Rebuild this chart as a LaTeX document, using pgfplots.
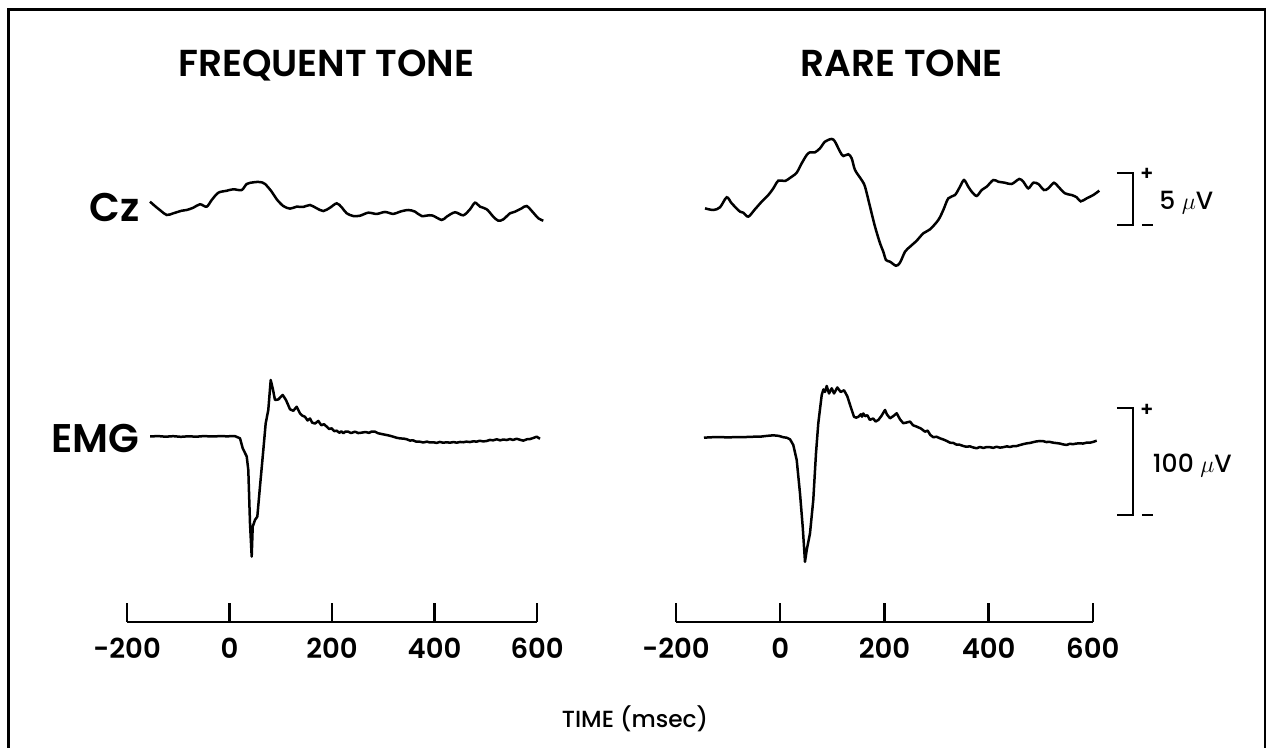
\documentclass[border=0pt]{standalone}
\usepackage{fontspec}
\setmainfont{Poppins}[BoldFont={Poppins SemiBold}]
\newfontfamily\medfont{Poppins Medium}
\usepackage{pgfplots}
\pgfplotsset{compat=1.18}
\pgfplotsset{
  trace/.style={scale only axis, hide axis, clip=false, xmin=-200, xmax=620},
  timeax/.style={scale only axis, clip=false, xmin=-200, xmax=600, ymin=0, ymax=1, height=20pt,
    axis x line=bottom, axis y line=none, xtick={-200,0,200,400,600},
    x axis line style={-, line width=1.5pt}, major tick length=11.2pt,
    tick style={line width=1.5pt, black}, xtick align=inside,
    /pgf/number format/assume math mode=true,
    xticklabel style={inner sep=0pt, yshift=-9.6pt, font=\fontsize{16.5}{18}\selectfont\bfseries}},
}
\begin{document}
\begin{tikzpicture}
\useasboundingbox (0,0) rectangle (759.6pt,448.8pt);
\draw[line width=1.8pt] (4.8pt,-2pt) -- (4.8pt,442.8pt) -- (759pt,442.8pt) -- (759pt,-2pt);
\node[anchor=base west, inner sep=0pt, font=\fontsize{22.5}{26}\selectfont\bfseries] at (106.8pt,402.6pt) {FREQUENT TONE};
\node[anchor=base west, inner sep=0pt, font=\fontsize{22.5}{26}\selectfont\bfseries] at (480pt,402.6pt) {RARE TONE};
\node[anchor=base east, inner sep=0pt, font=\fontsize{24}{27}\selectfont\bfseries] at (84pt,315.6pt) {Cz};
\node[anchor=base east, inner sep=0pt, font=\fontsize{24}{27}\selectfont\bfseries] at (84pt,177pt) {EMG};
\node[anchor=base, inner sep=0pt, font=\fontsize{14}{16}\selectfont\medfont] at (381pt,12pt) {TIME (msec)};

% Cz left
\begin{axis}[trace, at={(76.26pt,285.36pt)}, anchor=south west, width=252.15pt, height=87.36pt, ymin=-6, ymax=8]
\addplot[black, line width=1.5pt, smooth, tension=0.5] coordinates {
(-155.3,0.80)(-145.6,0.38)(-134.4,-0.07)(-122.7,-0.48)(-109.9,-0.32)(-93.5,-0.07)(-83.7,0.0)(-70.8,0.22)(-57.8,0.55)(-44.7,0.32)(-34.9,0.96)(-22.0,1.66)(-5.7,1.85)(7.2,1.99)(23.6,1.92)(33.4,2.50)(46.2,2.66)(59.3,2.69)(69.1,2.50)(82.1,1.76)(91.9,1.03)(104.8,0.38)(117.9,0.13)(130.9,0.32)(143.8,0.29)(156.9,0.48)(170.0,0.16)(182.9,-0.10)(195.9,0.22)(209.0,0.64)(218.7,0.26)(228.5,-0.32)(241.4,-0.58)(254.4,-0.55)(270.6,-0.26)(287.0,-0.38)(303.2,-0.19)(319.4,-0.38)(332.5,-0.16)(348.7,0.0)(361.8,-0.16)(374.9,-0.58)(394.3,-0.51)(413.9,-0.96)(423.6,-0.64)(439.8,-0.22)(456.0,-0.51)(469.1,0.07)(478.8,0.70)(488.6,0.32)(501.7,0.07)(514.5,-0.64)(524.3,-1.03)(534.1,-0.90)(547.1,-0.32)(556.9,-0.16)(570.0,0.16)(579.7,0.38)(592.6,-0.26)(602.4,-0.80)(612.1,-1.03)
};
\end{axis}

% Cz right
\begin{axis}[trace, at={(405.6pt,285.36pt)}, anchor=south west, width=256.32pt, height=87.36pt, ymin=-6, ymax=8]
\addplot[black, line width=1.5pt, smooth, tension=0.5] coordinates {
(-144.3,0.16)(-128.4,0.0)(-115.5,0.26)(-102.7,1.22)(-93.1,0.64)(-77.2,-0.16)(-70.8,-0.26)(-61.2,-0.64)(-48.4,0.07)(-35.5,0.80)(-22.8,1.44)(-13.2,2.08)(-3.6,2.82)(9.2,2.79)(22.1,3.20)(31.7,3.59)(41.3,4.49)(50.9,5.29)(57.2,5.55)(66.8,5.55)(76.4,5.93)(86.0,6.57)(98.9,6.83)(105.2,6.57)(114.8,5.61)(121.1,5.19)(130.7,5.36)(137.2,4.97)(143.6,3.85)(156.4,2.88)(162.8,2.24)(172.4,0.32)(182.0,-1.60)(191.6,-3.20)(197.9,-4.01)(203.1,-4.81)(210.8,-4.97)(222.3,-5.36)(229.9,-5.07)(239.6,-4.01)(249.2,-3.53)(262.0,-2.95)(274.7,-2.24)(287.6,-1.86)(303.5,-0.96)(313.1,0.0)(322.7,1.12)(335.5,1.44)(345.1,2.24)(352.8,2.88)(361.0,2.24)(367.6,1.76)(377.2,1.35)(386.8,1.92)(396.4,2.24)(409.0,2.88)(418.6,2.72)(431.5,2.62)(444.3,2.50)(458.9,2.98)(466.6,2.72)(476.2,2.08)(485.8,2.62)(495.4,2.50)(506.3,1.92)(514.6,2.08)(525.5,2.62)(533.8,2.24)(546.7,1.60)(559.5,1.44)(569.1,1.22)(576.8,0.83)(588.3,1.12)(601.0,1.44)(612.5,1.86)
};
\draw[line width=1.5pt] (646.4,3.56) -- (677.2,3.56) -- (677.2,-1.44) -- (646.4,-1.44);
\draw[line width=1.5pt] (694.4,-1.44) -- (715.5,-1.44);
\node[font=\fontsize{12}{14}\selectfont\bfseries, inner sep=0pt] at (704,3.46) {+};
\node[anchor=base west, inner sep=0pt, font=\fontsize{15}{17}\selectfont\medfont] at (727.1,0) {5 $\mu$V};
\end{axis}

% EMG left
\begin{axis}[trace, at={(76.26pt,109.86pt)}, anchor=south west, width=252.15pt, height=115.56pt, ymin=-120, ymax=60]
\addplot[black, line width=1.5pt, line join=round] coordinates {
(-155,0)(-140,0.4)(-125,-0.2)(-110,0.3)(-95,-0.3)(-80,0.2)(-65,-0.2)(-50,0.4)(-35,0)(-20,0.3)(-5,0.2)(10.5,0.3)(20.3,-1.7)(25.6,-11.0)(33.4,-18.7)(36.5,-31.3)(39.8,-81.1)(43.1,-112.2)(45.1,-84.2)(49.6,-78.0)(54.1,-74.8)(59.3,-46.7)(65.8,-12.6)(70.4,12.3)(75.5,24.8)(80.2,52.8)(84.1,45.0)(88.6,34.1)(95.0,34.6)(103.6,38.8)(110.0,34.1)(117.9,25.4)(124.3,24.0)(130.9,27.8)(137.4,21.5)(142,19.5)(147.1,18.4)(152,15)(156.9,16.8)(161,13)(166.6,12.1)(173.1,14.5)(179,10.5)(184,11.5)(189.5,9.2)(194,7)(199.2,7.6)(204,5.0)(209.0,5.4)(214,3.5)(218,4.8)(221.9,3.0)(226,4.6)(231.6,4.5)(237,3.2)(244.7,4.5)(251,3.2)(257.8,3.6)(265,4.2)(272,3.4)(277,4.6)(283.7,4.5)(290,3.0)(296.8,2.3)(305,1.5)(312,0.8)(319.4,-0.2)(326,-1.2)(333,-1.8)(340,-2.0)(345.6,-2.6)(352,-3.8)(358,-3.6)(364,-4.8)(371.5,-4.9)(378,-5.6)(385,-4.8)(391,-5.6)(397.5,-5.4)(404,-6.0)(410,-5.1)(417,-5.8)(423.6,-5.4)(430,-5.8)(437,-5.2)(443,-5.8)(449.6,-5.1)(456,-5.4)(462,-4.8)(469,-5.2)(475.5,-4.5)(482,-4.8)(488,-4.0)(495,-4.6)(501.7,-4.2)(508,-3.2)(514,-3.6)(521.2,-2.6)(528,-3.6)(534,-2.8)(540.7,-3.3)(547,-2.4)(553,-3.2)(560.2,-2.1)(566,-3.0)(573.1,-3.9)(580,-2.6)(586,-2.4)(592.6,-1.4)(599.2,-0.2)(605.6,-2.1)
};
\end{axis}

% EMG right
\begin{axis}[trace, at={(405.6pt,109.86pt)}, anchor=south west, width=256.32pt, height=115.56pt, ymin=-120, ymax=60]
\addplot[black, line width=1.5pt, line join=round] coordinates {
(-146.3,-1.1)(-131,-0.7)(-115.5,-0.5)(-100,-0.9)(-85,-0.5)(-77.2,-0.7)(-60,-0.4)(-50,-0.2)(-38.8,-0.2)(-25,0.6)(-13.2,1.1)(-3,0.6)(6.0,-0.7)(13,-1.2)(18.8,-2.6)(25.1,-7.9)(31.7,-22.0)(38.0,-53.2)(43.2,-84.4)(47.6,-117.1)(50.9,-106.1)(57.2,-90.5)(63.5,-59.3)(68.7,-15.7)(73.1,12.3)(79.7,38.8)(83,44)(86.0,41.6)(89.3,47.2)(93.7,40.2)(98.9,45.0)(103.3,40.2)(109.6,45.8)(116.1,41.6)(122.5,43.2)(128.8,37.6)(135.3,27.7)(141.7,18.4)(146,17.6)(149.9,18.4)(155,20.8)(157,18.5)(159.5,21.5)(163,19)(167.2,19.9)(172,15.6)(178.7,16.8)(183,14.0)(188.3,15.4)(194,19)(201.2,24.8)(205,20.5)(210.8,17.0)(217,19)(223.6,21.7)(230,16)(236.3,12.4)(242,13)(249.2,13.9)(255,10.5)(262.0,9.2)(270,7.5)(277.9,4.5)(283,5.5)(288,1.5)(293.9,-0.7)(300,-0.2)(306.7,-1.7)(313,-2.8)(319,-4.0)(325.9,-5.8)(332,-6.0)(338,-7.5)(344,-7.6)(351.4,-8.9)(357,-9.6)(364,-9.2)(370,-10.2)(377.2,-11.0)(383,-9.8)(390,-10.7)(396,-9.9)(402.7,-10.0)(409,-10.6)(415,-9.6)(422,-10.4)(428.2,-10.0)(435,-9.2)(441,-9.8)(447,-9.0)(453.9,-8.9)(460,-8.0)(466,-7.2)(473.1,-6.4)(480,-6.0)(486,-5.2)(492,-4.6)(498.6,-4.2)(505,-4.4)(511,-5.2)(517,-5.0)(524.2,-5.8)(531,-6.2)(537,-6.6)(543,-7.4)(549.9,-7.9)(556,-6.8)(562,-7.2)(568,-6.6)(575.4,-6.4)(581,-6.6)(588,-5.8)(594.6,-5.8)(601,-5.0)(607.5,-3.9)
};
\draw[line width=1.5pt] (646.4,26.6) -- (677.2,26.6) -- (677.2,-73.4) -- (646.4,-73.4);
\draw[line width=1.5pt] (694.4,-73.4) -- (715.5,-73.4);
\node[font=\fontsize{12}{14}\selectfont\bfseries, inner sep=0pt] at (704,24.8) {+};
\node[anchor=base west, inner sep=0pt, font=\fontsize{15}{17}\selectfont\medfont] at (714.9,-34.1) {100 $\mu$V};
\end{axis}

% time axes
\begin{axis}[timeax, at={(76.26pt,75.6pt)}, anchor=south west, width=246pt]
\end{axis}
\begin{axis}[timeax, at={(405.6pt,75.6pt)}, anchor=south west, width=250.08pt]
\end{axis}
\end{tikzpicture}
\end{document}
